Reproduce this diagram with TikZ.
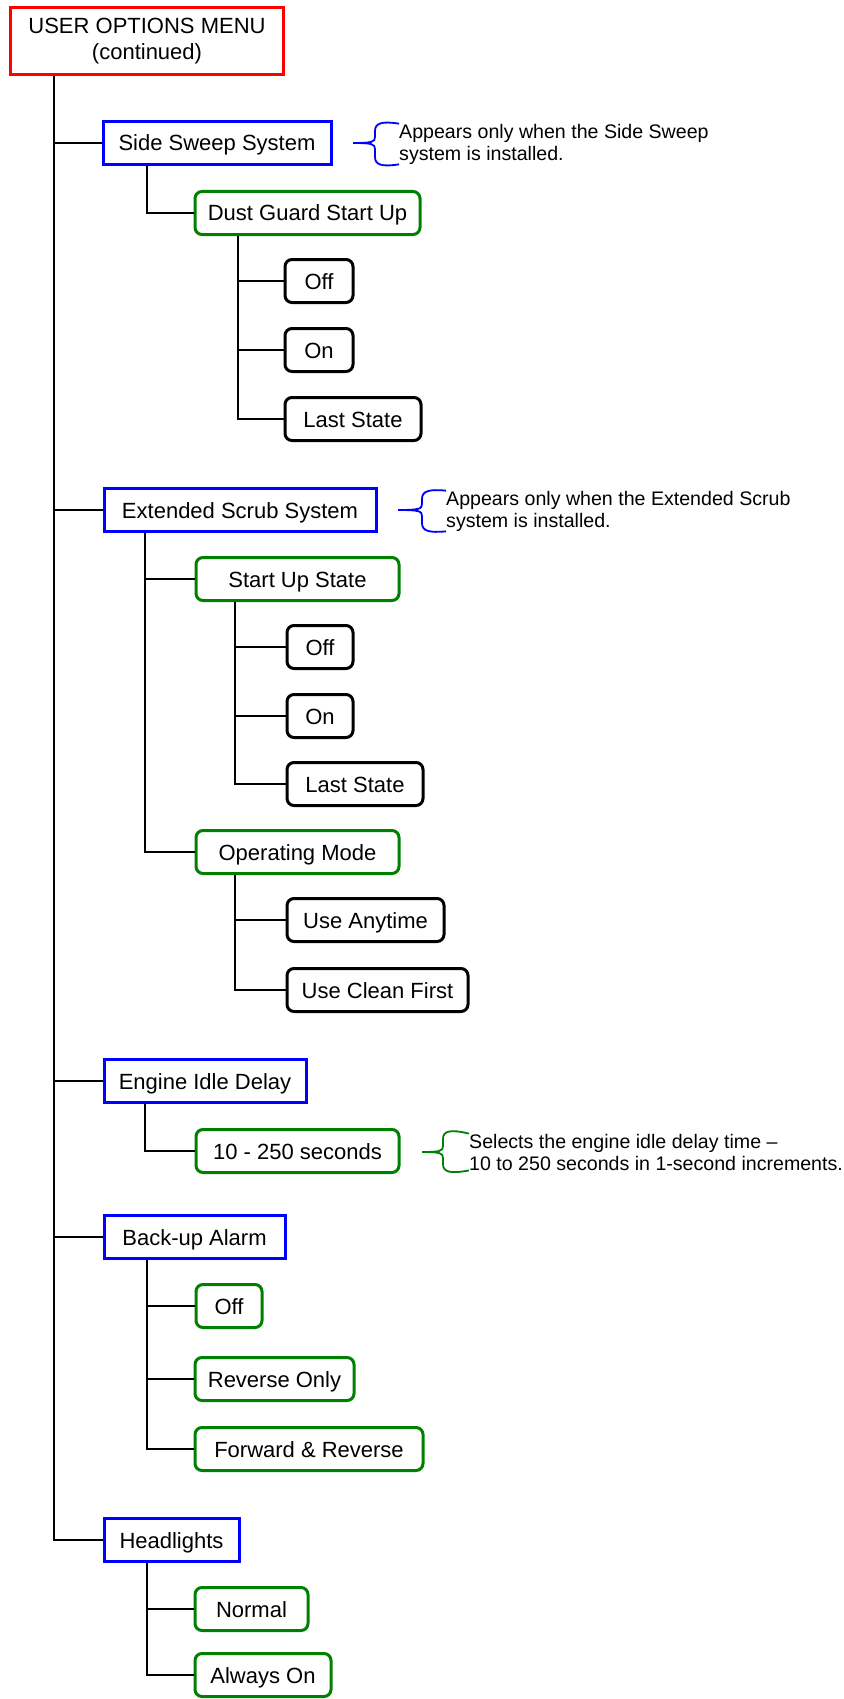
\documentclass[tikz,border=0pt]{standalone}
\usepackage{fontspec}
\setmainfont{Liberation Sans}
\begin{document}
\begin{tikzpicture}[x=1pt,y=-1pt,
  frame/.style={draw, line width=3pt, inner sep=0pt, font=\fontsize{22}{26}\selectfont, text=black},
  base/.style={frame, minimum height=43pt, anchor=west, text height=16pt, text depth=0pt},
  topbox/.style={frame, draw=red, anchor=center, align=center, minimum width=273pt, minimum height=67pt},
  cat/.style={base, draw=blue},
  sub/.style={base, draw=green!50!black, rounded corners=7pt},
  leaf/.style={base, draw=black, rounded corners=7pt},
  conn/.style={draw=black, line width=2pt},
  note/.style={anchor=west, align=left, inner sep=0pt, font=\fontsize{19.6}{22}\selectfont},
  bracebl/.style={draw=blue, line width=1.8pt},
  bracegr/.style={draw=green!50!black, line width=1.8pt}]
\useasboundingbox (0,0) rectangle (843,1699);

% top
\node[topbox] (top) at (147,41) {\raisebox{-3pt}{USER OPTIONS MENU}\\\raisebox{-3pt}{(continued)}};

% Side sweep
\node[cat, minimum width=228pt] (ss) at (101.5,143) {Side Sweep System};
\node[sub, minimum width=225pt] (dg) at (193.5,213) {Dust Guard Start Up};
\node[leaf, minimum width=68pt] (dgoff) at (283.5,281) {Off};
\node[leaf, minimum width=68pt] (dgon) at (283.5,350) {On};
\node[leaf, minimum width=136pt] (dglast) at (283.5,419) {Last State};

% Extended scrub
\node[cat, minimum width=272pt] (es) at (102.5,510) {Extended Scrub System};
\node[sub, minimum width=203pt] (su) at (194.5,579) {Start Up State};
\node[leaf, minimum width=66pt] (suoff) at (285.5,647) {Off};
\node[leaf, minimum width=66pt] (suon) at (285.5,716) {On};
\node[leaf, minimum width=136pt] (sulast) at (285.5,784) {Last State};
\node[sub, minimum width=203pt] (om) at (194.5,852) {Operating Mode};
\node[leaf, minimum width=157pt] (any) at (285.5,920) {Use Anytime};
\node[leaf, minimum width=181pt] (clean) at (285.5,990) {Use Clean First};

% Engine idle
\node[cat, minimum width=202pt] (ei) at (102.5,1081) {Engine Idle Delay};
\node[sub, minimum width=203pt] (sec) at (194.5,1151) {10 - 250 seconds};

% Back-up alarm
\node[cat, minimum width=181pt] (ba) at (102.5,1237) {Back-up Alarm};
\node[sub, minimum width=66pt] (baoff) at (194.5,1306) {Off};
\node[sub, minimum width=159pt] (barev) at (193.5,1379) {Reverse Only};
\node[sub, minimum width=228pt] (bafr) at (193.5,1449) {Forward \& Reverse};

% Headlights
\node[cat, minimum width=135pt] (hl) at (102.5,1540) {Headlights};
\node[sub, minimum width=113pt] (hln) at (193.5,1609) {Normal};
\node[sub, minimum width=136pt] (hla) at (193.5,1675) {Always On};

% connectors
\foreach \c in {ss,es,ei,ba,hl}
  \draw[conn] ([xshift=44.5pt]top.south west) |- (\c.west);
\draw[conn] ([xshift=45.5pt]ss.south west) |- (dg.west);
\foreach \c in {dgoff,dgon,dglast}
  \draw[conn] ([xshift=44.5pt]dg.south west) |- (\c.west);
\foreach \c in {su,om}
  \draw[conn] ([xshift=42.5pt]es.south west) |- (\c.west);
\foreach \c in {suoff,suon,sulast}
  \draw[conn] ([xshift=40.5pt]su.south west) |- (\c.west);
\foreach \c in {any,clean}
  \draw[conn] ([xshift=40.5pt]om.south west) |- (\c.west);
\draw[conn] ([xshift=42.5pt]ei.south west) |- (sec.west);
\foreach \c in {baoff,barev,bafr}
  \draw[conn] ([xshift=44.5pt]ba.south west) |- (\c.west);
\foreach \c in {hln,hla}
  \draw[conn] ([xshift=44.5pt]hl.south west) |- (\c.west);

% notes
\node[note] (n1) at (399,144) {Appears only when the Side Sweep\\system is installed.};
\coordinate (t1) at (353,143);
\draw[bracebl] (n1.north west) .. controls (382,121) and (375,123) .. (375,131)
  -- (375,137) .. controls (375,142) and (372,143) .. (t1);
\draw[bracebl] (n1.south west) .. controls (382,167) and (375,165) .. (375,157)
  -- (375,149) .. controls (375,144) and (372,143) .. (t1);

\node[note] (n2) at (446,511) {Appears only when the Extended Scrub\\system is installed.};
\coordinate (t2) at (398,510);
\draw[bracebl] (n2.north west) .. controls (429,489) and (422,491) .. (422,499)
  -- (422,504) .. controls (422,509) and (419,510) .. (t2);
\draw[bracebl] (n2.south west) .. controls (429,533) and (422,531) .. (422,523)
  -- (422,516) .. controls (422,511) and (419,510) .. (t2);

\node[note] (n3) at (469,1152) {Selects the engine idle delay time –\\10 to 250 seconds in 1-second increments.};
\coordinate (t3) at (422,1152);
\draw[bracegr] (n3.north west) .. controls (450,1129) and (443,1131) .. (443,1139)
  -- (443,1146) .. controls (443,1151) and (440,1152) .. (t3);
\draw[bracegr] (n3.south west) .. controls (450,1174) and (443,1172) .. (443,1164)
  -- (443,1158) .. controls (443,1153) and (440,1152) .. (t3);
\end{tikzpicture}
\end{document}
